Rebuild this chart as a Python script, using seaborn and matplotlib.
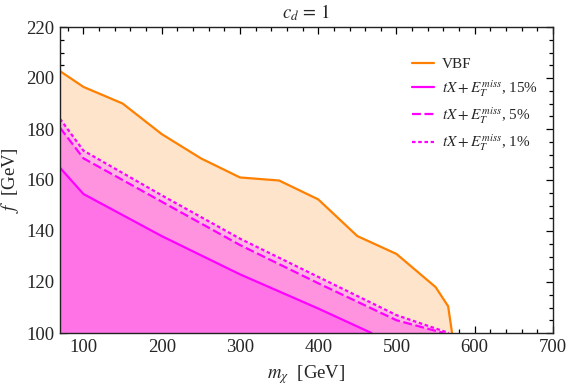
import numpy as np
import pandas as pd
import matplotlib
matplotlib.use("Agg")
import matplotlib.pyplot as plt
from matplotlib.ticker import MultipleLocator
import seaborn as sns

# ---- data ----
vbf_m = [70, 100, 150, 200, 250, 300, 350, 400, 450, 500, 550, 566, 571]
vbf_f = [202.7, 196.5, 190.0, 178.0, 168.5, 161.0, 159.8, 152.4, 138.0, 131.0, 118.0, 110.5, 100.0]

tx15_m = [70, 100, 200, 300, 400, 468]
tx15_f = [164.8, 154.5, 138.0, 123.0, 109.6, 100.0]

tx5_m = [70, 100, 200, 300, 400, 500, 560]
tx5_f = [180.5, 168.5, 151.5, 134.5, 119.5, 105.0, 100.0]

tx1_m = [70, 100, 200, 300, 400, 500, 567]
tx1_f = [184.0, 171.5, 154.0, 137.0, 122.0, 107.0, 100.0]

labels = ["VBF", r"$tX+E_T^{miss}$, 15%", r"$tX+E_T^{miss}$, 5%", r"$tX+E_T^{miss}$, 1%"]
x_ticks = [100, 200, 300, 400, 500, 600, 700]
y_ticks = [100, 120, 140, 160, 180, 200, 220]

sns.set_style("ticks")
plt.rcParams["font.family"] = ["Liberation Serif", "DejaVu Serif"]
plt.rcParams["mathtext.fontset"] = "stix"

fig = plt.figure(figsize=(5.81, 3.88), dpi=100)
ax = fig.add_axes([60/581, 1-333/388, (553-60)/581, (333-27)/388])

ORANGE = "#FF8000"
MAG = "#FF00FF"

# fills
ax.fill_between(vbf_m, 100, vbf_f, color="#FDE4CA", lw=0, zorder=1)
ax.fill_between(tx1_m, 100, tx1_f, color="#FDB6E2", lw=0, zorder=2)
ax.fill_between(tx5_m, 100, tx5_f, color="#FF93DF", lw=0, zorder=3)
ax.fill_between(tx15_m, 100, tx15_f, color="#FF73E7", lw=0, zorder=4)

df = pd.concat([
    pd.DataFrame({"m": vbf_m, "f": vbf_f, "s": labels[0]}),
    pd.DataFrame({"m": tx15_m, "f": tx15_f, "s": labels[1]}),
    pd.DataFrame({"m": tx5_m, "f": tx5_f, "s": labels[2]}),
    pd.DataFrame({"m": tx1_m, "f": tx1_f, "s": labels[3]}),
])
sns.lineplot(data=df, x="m", y="f", hue="s", style="s", sort=False,
             palette={labels[0]: ORANGE, labels[1]: MAG, labels[2]: MAG, labels[3]: MAG},
             dashes={labels[0]: "", labels[1]: "", labels[2]: (4, 1.6), labels[3]: (1.6, 1.2)},
             lw=1.6, ax=ax, zorder=6, legend=True)

ax.set_xlim(70, 700)
ax.set_ylim(100, 220)
ax.set_xticks(x_ticks)
ax.set_yticks(y_ticks)
ax.xaxis.set_minor_locator(MultipleLocator(20))
ax.yaxis.set_minor_locator(MultipleLocator(5))
ax.tick_params(which="both", direction="in", top=True, right=True, color="black", width=0.9)
ax.tick_params(which="major", length=5, labelsize=13.5, pad=4)
ax.tick_params(which="minor", length=3)
for s in ax.spines.values():
    s.set_linewidth(1.0)
    s.set_color("#222222")
    s.set_zorder(10)

ax.set_xlabel(r"$m_\chi$  [GeV]", fontsize=13.5, labelpad=5.5)
ax.set_ylabel(r"$f$  [GeV]", fontsize=13.5, labelpad=4)
ax.set_title(r"$c_d\, =\, 1$", fontsize=13.5, pad=6)

handles, labs = ax.get_legend_handles_labels()
leg = ax.legend(handles, labs, loc="upper left", bbox_to_anchor=(398/581, 1-44/388),
                bbox_transform=fig.transFigure, frameon=False, fontsize=11,
                handlelength=1.45, handletextpad=0.55, labelspacing=0.42)
for lh in leg.get_lines():
    lh.set_linewidth(1.6)

fig.savefig("out.png", dpi=100)
